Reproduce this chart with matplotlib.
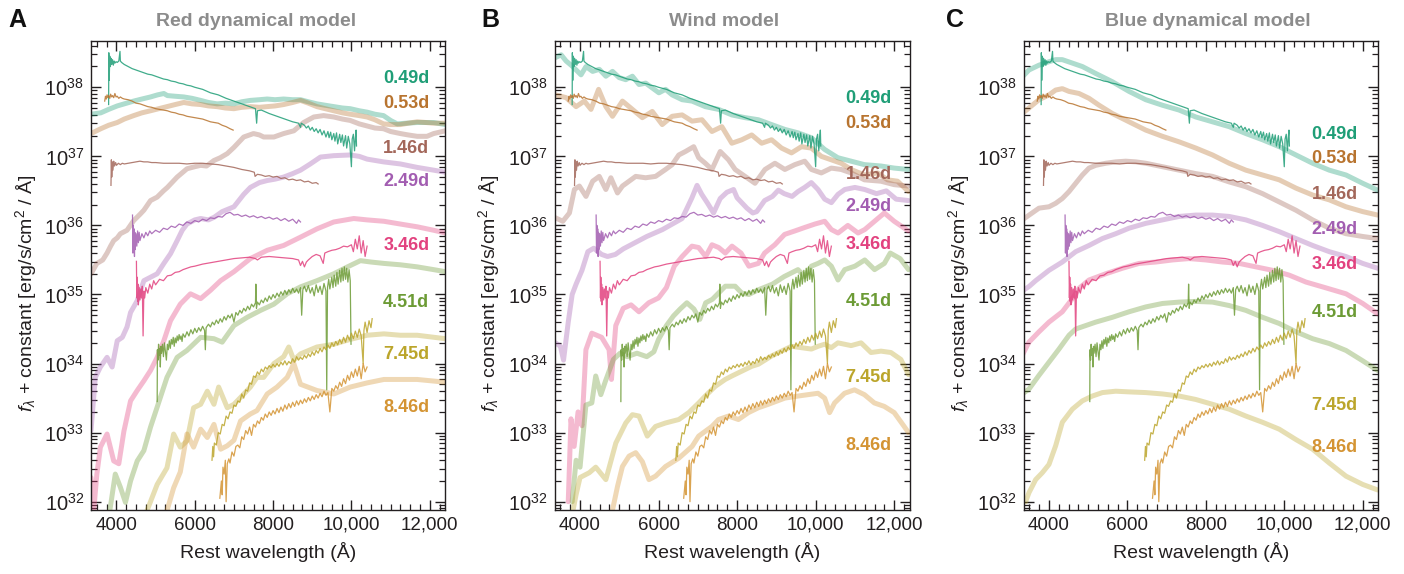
import numpy as np
import matplotlib
matplotlib.use("Agg")
import matplotlib.pyplot as plt
from matplotlib.ticker import (FixedLocator, MultipleLocator, LogLocator, FuncFormatter,
                               NullFormatter, LogFormatterSciNotation)

plt.rcParams['font.family'] = ['Liberation Sans', 'DejaVu Sans']
plt.rcParams['mathtext.fontset'] = 'custom'
plt.rcParams['mathtext.rm'] = 'Liberation Sans'
plt.rcParams['mathtext.it'] = 'Liberation Sans:italic'
plt.rcParams['mathtext.bf'] = 'Liberation Sans:bold'

# ---------------- data ----------------
epochs = ['0.49d', '0.53d', '1.46d', '2.49d', '3.46d', '4.51d', '7.45d', '8.46d']
colors = ['#1f9e77', '#b8742f', '#a3675a', '#a25db1', '#e2427f', '#6c9b35', '#bba52b', '#d49433']
panel_titles = ['Red dynamical model', 'Wind model', 'Blue dynamical model']
panel_letters = ['A', 'B', 'C']
xtick_values = [4000, 6000, 8000, 10000, 12000]
ytick_exponents = [32, 33, 34, 35, 36, 37, 38]

# observed spectra: (rest wavelength [A], log10 f_lambda + constant)
obs_049 = [(3800, 37.75), (3805, 38.50), (3815, 38.10), (3830, 38.45), (3845, 38.30), (3860, 38.42),
           (3880, 38.33), (3900, 38.40), (3920, 38.32), (3940, 38.38), (3960, 38.35), (3990, 38.37),
           (4020, 38.36), (4060, 38.38), (4090, 38.52), (4100, 38.38), (4130, 38.36), (4200, 38.33),
           (4300, 38.30), (4400, 38.27), (4500, 38.25), (4600, 38.23), (4700, 38.21), (4800, 38.19),
           (4900, 38.18), (5000, 38.16), (5100, 38.14), (5200, 38.12), (5300, 38.11), (5400, 38.09),
           (5500, 38.08), (5600, 38.06), (5700, 38.05), (5800, 38.03), (5900, 38.02), (6000, 38.00),
           (6200, 37.97), (6400, 37.92), (6600, 37.89), (6800, 37.84), (7000, 37.80), (7200, 37.76),
           (7400, 37.72), (7550, 37.69), (7580, 37.48), (7600, 37.66), (7700, 37.67), (7900, 37.62),
           (8100, 37.58), (8300, 37.54), (8500, 37.50), (8650, 37.48), (8700, 37.42), (8720, 37.48),
           (8800, 37.45), (8850, 37.41), (8900, 37.44), (8950, 37.38), (9000, 37.42), (9050, 37.36),
           (9100, 37.40), (9150, 37.34), (9200, 37.39), (9250, 37.31), (9300, 37.37), (9350, 37.28),
           (9400, 37.36), (9430, 37.27), (9470, 37.35), (9500, 37.24), (9550, 37.33), (9580, 37.22),
           (9620, 37.34), (9650, 37.18), (9700, 37.32), (9730, 37.20), (9770, 37.31), (9800, 37.15),
           (9850, 37.30), (9880, 37.12), (9920, 37.29), (9960, 37.18), (10000, 36.85), (10020, 37.25),
           (10050, 37.32), (10080, 37.08), (10100, 37.26), (10120, 37.38), (10130, 37.15)]
obs_053 = [(3700, 37.80), (3720, 37.87), (3740, 37.83), (3760, 37.89), (3780, 37.85), (3800, 37.88),
           (3830, 37.84), (3850, 37.90), (3880, 37.86), (3900, 37.88), (3930, 37.85), (3960, 37.91),
           (3990, 37.86), (4020, 37.87), (4060, 37.84), (4100, 37.86), (4150, 37.84), (4200, 37.83),
           (4300, 37.82), (4400, 37.80), (4500, 37.77), (4600, 37.76), (4700, 37.74), (4800, 37.72),
           (4900, 37.71), (5000, 37.69), (5100, 37.68), (5200, 37.67), (5300, 37.66), (5400, 37.64),
           (5500, 37.63), (5600, 37.61), (5700, 37.60), (5800, 37.58), (5900, 37.57), (6000, 37.56),
           (6100, 37.55), (6200, 37.54), (6300, 37.52), (6400, 37.50), (6500, 37.49), (6600, 37.48),
           (6700, 37.45), (6800, 37.43), (6900, 37.40), (6980, 37.38)]
obs_146 = [(3860, 36.58), (3870, 36.95), (3880, 36.70), (3895, 36.92), (3910, 36.80), (3930, 36.93),
           (3950, 36.86), (3980, 36.91), (4000, 36.87), (4050, 36.90), (4100, 36.88), (4150, 36.90),
           (4200, 36.89), (4300, 36.90), (4400, 36.91), (4500, 36.92), (4600, 36.93), (4700, 36.92),
           (4800, 36.92), (4900, 36.91), (5000, 36.91), (5200, 36.90), (5400, 36.90), (5600, 36.90),
           (5800, 36.89), (6000, 36.90), (6200, 36.90), (6400, 36.89), (6600, 36.88), (6800, 36.86),
           (7000, 36.84), (7200, 36.81), (7400, 36.79), (7520, 36.77), (7540, 36.71), (7600, 36.74),
           (7700, 36.73), (7800, 36.71), (7900, 36.72), (8000, 36.70), (8100, 36.71), (8200, 36.68),
           (8300, 36.69), (8400, 36.66), (8500, 36.67), (8600, 36.65), (8700, 36.66), (8800, 36.63),
           (8900, 36.64), (9000, 36.61), (9100, 36.62), (9150, 36.60)]
obs_249 = [(4410, 36.15), (4420, 35.60), (4430, 36.00), (4440, 35.70), (4450, 35.95), (4460, 35.55),
           (4470, 35.90), (4480, 35.65), (4500, 35.88), (4520, 35.70), (4540, 35.92), (4560, 35.75),
           (4580, 35.90), (4600, 35.78), (4650, 35.88), (4700, 35.82), (4750, 35.90), (4800, 35.85),
           (4850, 35.92), (4900, 35.88), (5000, 35.93), (5100, 35.90), (5200, 35.96), (5300, 35.94),
           (5400, 35.99), (5500, 35.97), (5600, 36.02), (5700, 36.00), (5800, 36.05), (5900, 36.03),
           (6000, 36.07), (6100, 36.05), (6200, 36.09), (6300, 36.07), (6400, 36.11), (6500, 36.10),
           (6600, 36.13), (6700, 36.12), (6800, 36.17), (6900, 36.19), (7000, 36.15), (7100, 36.16),
           (7200, 36.13), (7300, 36.15), (7400, 36.12), (7500, 36.14), (7600, 36.11), (7700, 36.13),
           (7800, 36.10), (7900, 36.12), (8000, 36.09), (8100, 36.11), (8200, 36.07), (8300, 36.10),
           (8400, 36.06), (8500, 36.09), (8600, 36.03), (8650, 36.08), (8700, 36.05)]
obs_346 = [(4510, 35.48), (4520, 34.95), (4530, 35.25), (4540, 34.90), (4550, 35.15), (4560, 34.85),
           (4580, 35.10), (4600, 34.92), (4620, 35.08), (4640, 34.95), (4660, 35.12), (4680, 34.40),
           (4700, 35.05), (4720, 34.95), (4750, 35.10), (4800, 35.02), (4850, 35.15), (4900, 35.08),
           (4950, 35.20), (5000, 35.14), (5100, 35.22), (5200, 35.20), (5300, 35.27), (5400, 35.28),
           (5500, 35.32), (5600, 35.33), (5700, 35.36), (5800, 35.38), (5900, 35.40), (6000, 35.41),
           (6200, 35.44), (6400, 35.46), (6600, 35.48), (6800, 35.50), (7000, 35.52), (7200, 35.53),
           (7400, 35.54), (7550, 35.52), (7600, 35.50), (7700, 35.54), (7900, 35.55), (8100, 35.54),
           (8300, 35.53), (8500, 35.52), (8650, 35.50), (8700, 35.42), (8750, 35.48), (8800, 35.40),
           (8850, 35.47), (8900, 35.50), (9000, 35.55), (9100, 35.58), (9200, 35.56), (9280, 35.45),
           (9320, 35.60), (9400, 35.62), (9500, 35.64), (9600, 35.65), (9700, 35.67), (9800, 35.70),
           (9900, 35.69), (10000, 35.72), (10050, 35.62), (10100, 35.80), (10150, 35.66), (10200, 35.85),
           (10250, 35.60), (10300, 35.78), (10350, 35.55), (10400, 35.70)]
obs_451 = [(5040, 33.45), (5045, 34.20), (5060, 34.05), (5075, 34.28), (5090, 34.12), (5105, 34.22),
           (5120, 33.95), (5135, 34.25), (5150, 34.15), (5175, 34.28), (5200, 34.10), (5225, 34.30),
           (5250, 34.18), (5275, 34.05), (5300, 34.28), (5325, 34.20), (5350, 34.33), (5375, 34.22),
           (5400, 34.35), (5425, 34.28), (5450, 34.38), (5475, 34.25), (5500, 34.37), (5525, 34.30),
           (5550, 34.40), (5575, 34.33), (5600, 34.42), (5625, 34.35), (5650, 34.40), (5675, 34.32),
           (5700, 34.43), (5750, 34.38), (5800, 34.46), (5850, 34.40), (5900, 34.49), (5950, 34.43),
           (6000, 34.51), (6050, 34.45), (6100, 34.52), (6150, 34.47), (6200, 34.54), (6250, 34.48),
           (6270, 34.20), (6290, 34.52), (6350, 34.57), (6400, 34.53), (6450, 34.60), (6500, 34.56),
           (6550, 34.63), (6600, 34.58), (6650, 34.65), (6700, 34.60), (6750, 34.68), (6800, 34.63),
           (6850, 34.70), (6900, 34.66), (6950, 34.72), (7000, 34.60), (7050, 34.74), (7100, 34.70),
           (7150, 34.77), (7200, 34.73), (7250, 34.80), (7300, 34.76), (7350, 34.83), (7400, 34.78),
           (7450, 34.86), (7500, 34.82), (7550, 34.88), (7560, 35.15), (7575, 34.80), (7600, 34.89),
           (7650, 34.85), (7700, 34.92), (7750, 34.88), (7800, 34.95), (7850, 34.90), (7900, 34.98),
           (7950, 34.93), (8000, 35.00), (8050, 34.95), (8100, 35.02), (8150, 34.97), (8200, 35.04),
           (8250, 34.99), (8300, 35.06), (8350, 35.00), (8400, 35.07), (8450, 35.02), (8500, 35.09),
           (8550, 35.03), (8600, 35.08), (8650, 35.02), (8700, 35.10), (8730, 34.70), (8760, 35.07),
           (8800, 35.12), (8850, 35.04), (8900, 35.13), (8950, 35.02), (9000, 35.10), (9050, 34.98),
           (9100, 35.14), (9150, 35.03), (9200, 35.12), (9250, 35.00), (9300, 35.16), (9350, 35.05),
           (9370, 33.62), (9390, 35.10), (9420, 35.22), (9450, 35.08), (9500, 35.25), (9530, 35.10),
           (9560, 35.28), (9600, 35.12), (9630, 35.32), (9660, 35.15), (9700, 35.35), (9730, 35.18),
           (9760, 35.38), (9790, 35.20), (9820, 35.40), (9850, 35.22), (9880, 35.38), (9910, 35.18),
           (9940, 35.36), (9970, 35.20), (9990, 34.28)]
obs_745 = [(6440, 32.60), (6460, 32.80), (6480, 32.65), (6500, 32.85), (6550, 32.82), (6600, 33.00),
           (6650, 32.98), (6700, 33.12), (6750, 33.10), (6800, 33.24), (6850, 33.20), (6900, 33.30),
           (6950, 33.28), (7000, 33.40), (7050, 33.38), (7100, 33.46), (7150, 33.44), (7200, 33.56),
           (7250, 33.50), (7300, 33.62), (7350, 33.60), (7400, 33.72), (7450, 33.70), (7500, 33.82),
           (7550, 33.80), (7600, 33.88), (7650, 33.84), (7700, 33.92), (7750, 33.88), (7800, 33.95),
           (7850, 33.92), (7900, 33.97), (7950, 33.94), (8000, 33.99), (8050, 33.95), (8100, 34.00),
           (8150, 33.96), (8200, 34.02), (8250, 33.98), (8300, 34.04), (8350, 33.98), (8400, 34.03),
           (8450, 34.00), (8500, 34.07), (8550, 34.02), (8600, 34.10), (8650, 34.05), (8700, 34.09),
           (8750, 34.06), (8800, 34.12), (8850, 34.08), (8900, 34.14), (8950, 34.10), (9000, 34.17),
           (9050, 34.12), (9100, 34.19), (9150, 34.15), (9200, 34.22), (9250, 34.17), (9300, 34.24),
           (9350, 34.20), (9400, 34.27), (9450, 34.22), (9500, 34.30), (9550, 34.25), (9600, 34.32),
           (9650, 34.27), (9700, 34.35), (9750, 34.29), (9800, 34.38), (9850, 34.31), (9900, 34.41),
           (9950, 34.34), (10000, 34.44), (10050, 34.36), (10100, 34.47), (10150, 34.38), (10200, 34.50),
           (10250, 34.40), (10300, 34.00), (10320, 34.48), (10350, 34.60), (10400, 34.45), (10450, 34.62),
           (10500, 34.52), (10530, 34.65)]
obs_846 = [(6640, 32.05), (6680, 32.30), (6700, 32.10), (6720, 32.50), (6750, 32.40), (6780, 32.60),
           (6800, 32.00), (6830, 32.55), (6870, 32.62), (6900, 32.56), (6950, 32.72), (7000, 32.66),
           (7050, 32.80), (7100, 32.82), (7150, 32.78), (7200, 32.94), (7250, 32.90), (7300, 33.03),
           (7350, 32.98), (7400, 33.08), (7450, 32.96), (7500, 33.12), (7550, 33.08), (7600, 33.17),
           (7650, 33.13), (7700, 33.22), (7750, 33.18), (7800, 33.27), (7850, 33.22), (7900, 33.30),
           (7950, 33.25), (8000, 33.32), (8050, 33.27), (8100, 33.35), (8150, 33.29), (8200, 33.37),
           (8250, 33.31), (8300, 33.40), (8350, 33.34), (8400, 33.42), (8450, 33.36), (8500, 33.44),
           (8550, 33.38), (8600, 33.46), (8650, 33.40), (8700, 33.47), (8750, 33.42), (8800, 33.49),
           (8850, 33.44), (8900, 33.51), (8950, 33.46), (9000, 33.53), (9050, 33.48), (9100, 33.55),
           (9150, 33.50), (9200, 33.57), (9250, 33.52), (9300, 33.60), (9350, 33.54), (9400, 33.58),
           (9450, 33.30), (9500, 33.64), (9550, 33.60), (9600, 33.68), (9650, 33.63), (9700, 33.73),
           (9750, 33.67), (9800, 33.78), (9850, 33.71), (9900, 33.83), (9950, 33.76), (10000, 33.88),
           (10050, 33.80), (10100, 33.92), (10150, 33.82), (10200, 33.96), (10250, 33.78), (10300, 34.00),
           (10350, 33.88), (10400, 33.95)]

# Red dynamical model
red_049 = [(3350, 37.61), (3600, 37.63), (3800, 37.68), (4020, 37.73), (4200, 37.76), (4440, 37.80),
           (4650, 37.83), (4870, 37.86), (5050, 37.89), (5210, 37.91), (5300, 37.88), (5500, 37.87),
           (5720, 37.86), (5930, 37.84), (6150, 37.81), (6350, 37.78), (6570, 37.76), (6780, 37.77),
           (7000, 37.76), (7200, 37.79), (7420, 37.81), (7650, 37.82), (7850, 37.83), (8050, 37.82),
           (8270, 37.83), (8500, 37.82), (8700, 37.82), (8900, 37.79), (9120, 37.76), (9330, 37.74),
           (9550, 37.72), (9770, 37.70), (9970, 37.69), (10200, 37.66), (10400, 37.64), (10600, 37.61),
           (10820, 37.59), (11000, 37.52), (11170, 37.47), (11400, 37.48), (11680, 37.49), (11900, 37.49),
           (12100, 37.49), (12400, 37.46)]
red_053 = [(3350, 37.33), (3600, 37.40), (3800, 37.45), (4020, 37.49), (4200, 37.54), (4440, 37.59),
           (4650, 37.63), (4870, 37.66), (5080, 37.69), (5290, 37.72), (5500, 37.75), (5720, 37.78),
           (5930, 37.76), (6150, 37.75), (6350, 37.73), (6570, 37.72), (6780, 37.70), (7000, 37.69),
           (7200, 37.71), (7420, 37.72), (7650, 37.71), (7850, 37.72), (8050, 37.73), (8270, 37.75),
           (8500, 37.78), (8700, 37.81), (8900, 37.77), (9120, 37.72), (9330, 37.69), (9550, 37.66),
           (9770, 37.63), (9970, 37.61), (10200, 37.59), (10400, 37.57), (10600, 37.53), (10820, 37.47),
           (11000, 37.46), (11250, 37.46), (11450, 37.48), (11680, 37.50), (11900, 37.49), (12100, 37.48),
           (12400, 37.48)]
red_146 = [(3350, 35.30), (3500, 35.45), (3650, 35.50), (3760, 35.60), (3850, 35.70), (3930, 35.78),
           (4020, 35.82), (4100, 35.88), (4270, 35.93), (4440, 36.07), (4600, 36.16), (4700, 36.22),
           (4870, 36.36), (5040, 36.41), (5200, 36.50), (5300, 36.55), (5550, 36.70), (5800, 36.82),
           (6000, 36.85), (6150, 36.87), (6300, 36.86), (6490, 36.94), (6650, 36.98), (6830, 37.04),
           (7000, 37.13), (7250, 37.28), (7500, 37.33), (7650, 37.31), (7760, 37.28), (8020, 37.28),
           (8270, 37.33), (8530, 37.37), (8780, 37.49), (9040, 37.57), (9290, 37.59), (9550, 37.57),
           (9770, 37.54), (9970, 37.52), (10200, 37.47), (10400, 37.44), (10600, 37.41), (10820, 37.40),
           (11000, 37.36), (11250, 37.33), (11450, 37.31), (11680, 37.29), (11930, 37.29), (12100, 37.33),
           (12400, 37.37)]
red_249 = [(3350, 33.03), (3460, 33.80), (3590, 33.95), (3760, 34.09), (3890, 33.95), (4020, 34.33),
           (4150, 34.38), (4270, 34.53), (4360, 34.74), (4530, 34.91), (4700, 35.20), (4870, 35.25),
           (5040, 35.30), (5210, 35.45), (5380, 35.59), (5550, 35.78), (5680, 35.93), (5800, 36.02),
           (6000, 36.08), (6150, 36.10), (6350, 36.08), (6500, 36.12), (6700, 36.20), (7000, 36.27),
           (7250, 36.45), (7420, 36.55), (7650, 36.62), (7850, 36.65), (8050, 36.67), (8270, 36.70),
           (8500, 36.75), (8700, 36.80), (8950, 36.89), (9210, 36.99), (9550, 37.01), (9970, 37.02),
           (10200, 37.00), (10400, 36.96), (10820, 36.92), (11250, 36.89), (11680, 36.84), (12100, 36.80),
           (12400, 36.77)]
red_346 = [(3350, 32.35), (3420, 31.87), (3500, 32.40), (3590, 32.79), (3760, 32.98), (3930, 32.59),
           (4060, 32.55), (4190, 33.02), (4360, 33.46), (4530, 33.61), (4700, 33.75), (4870, 33.90),
           (5040, 34.09), (5210, 34.33), (5380, 34.62), (5630, 34.86), (5890, 35.01), (6150, 34.94),
           (6400, 35.06), (6660, 35.20), (7000, 35.33), (7420, 35.52), (7850, 35.64), (8270, 35.71),
           (8700, 35.83), (9120, 35.95), (9550, 36.05), (10060, 36.10), (10400, 36.08), (10830, 36.06),
           (11250, 36.02), (11680, 35.98), (12100, 35.93), (12400, 35.89)]
red_451 = [(3830, 31.87), (3970, 32.40), (4100, 32.21), (4230, 31.99), (4360, 32.30), (4530, 32.59),
           (4700, 32.74), (4870, 33.08), (5040, 33.37), (5290, 33.80), (5550, 34.09), (5800, 34.19),
           (6150, 34.38), (6490, 34.36), (6700, 34.31), (7000, 34.55), (7340, 34.67), (7680, 34.77),
           (8020, 34.86), (8360, 35.01), (8700, 35.11), (9120, 35.20), (9550, 35.30), (9900, 35.40),
           (10230, 35.49), (10500, 35.47), (10830, 35.45), (11250, 35.43), (11680, 35.40), (12100, 35.36),
           (12400, 35.33)]
red_745 = [(4780, 31.87), (5040, 32.25), (5290, 32.49), (5460, 32.98), (5630, 32.79), (5800, 32.88),
           (5970, 33.36), (6150, 33.41), (6320, 33.60), (6490, 33.41), (6610, 33.66), (6830, 33.36),
           (7000, 33.41), (7170, 33.51), (7420, 33.66), (7590, 33.80), (7760, 33.80), (8020, 34.00),
           (8270, 34.10), (8400, 34.24), (8530, 34.05), (8700, 34.14), (9120, 34.24), (9550, 34.28),
           (9970, 34.35), (10400, 34.41), (10830, 34.43), (11250, 34.41), (11680, 34.41), (12400, 34.36)]
red_846 = [(5290, 31.87), (5460, 32.20), (5630, 32.43), (5800, 32.98), (5970, 32.79), (6150, 33.05),
           (6320, 32.93), (6490, 33.12), (6660, 32.76), (6830, 32.81), (7000, 32.89), (7170, 33.17),
           (7420, 33.27), (7590, 33.32), (7850, 33.56), (8100, 33.66), (8360, 33.80), (8530, 34.00),
           (8700, 33.70), (9120, 33.61), (9550, 33.56), (9970, 33.66), (10400, 33.72), (10830, 33.77),
           (11250, 33.77), (11680, 33.77), (12400, 33.73)]

# Wind model
wind_049 = [(3375, 38.43), (3519, 38.47), (3646, 38.38), (3814, 38.30), (4025, 38.18), (4152, 38.30),
            (4321, 38.23), (4490, 38.26), (4658, 38.16), (4827, 38.23), (4996, 38.14), (5165, 38.11),
            (5334, 38.16), (5502, 38.04), (5671, 38.06), (5840, 37.99), (6009, 37.92), (6178, 37.97),
            (6346, 37.89), (6600, 37.82), (6853, 37.80), (7190, 37.72), (7528, 37.68), (7866, 37.60),
            (8203, 37.56), (8541, 37.53), (8878, 37.46), (9216, 37.39), (9554, 37.34), (9891, 37.27),
            (10229, 37.10), (10566, 36.98), (10904, 36.93), (11242, 36.88), (11664, 36.86), (12001, 36.83),
            (12364, 36.81)]
wind_053 = [(3375, 37.89), (3646, 37.85), (3899, 37.72), (4110, 37.80), (4279, 37.68), (4473, 37.97),
            (4658, 37.72), (4827, 37.58), (5080, 37.80), (5334, 37.68), (5587, 37.56), (5840, 37.65),
            (6093, 37.46), (6346, 37.58), (6600, 37.60), (6853, 37.51), (7106, 37.53), (7359, 37.36),
            (7612, 37.43), (7866, 37.19), (8119, 37.24), (8372, 37.31), (8625, 37.19), (8878, 37.24),
            (9131, 37.12), (9385, 37.05), (9638, 37.14), (9891, 37.12), (10144, 37.00), (10398, 36.95),
            (10651, 36.90), (10904, 36.81), (11242, 36.73), (11579, 36.76), (11832, 36.66), (12086, 36.64),
            (12364, 36.49)]
wind_146 = [(3375, 36.11), (3561, 36.06), (3730, 36.18), (3857, 36.52), (3983, 36.57), (4152, 36.42),
            (4321, 36.64), (4490, 36.71), (4658, 36.52), (4785, 36.69), (4954, 36.47), (5080, 36.57),
            (5249, 36.64), (5418, 36.71), (5671, 36.69), (5924, 36.71), (6178, 36.81), (6346, 36.88),
            (6515, 37.02), (6684, 37.07), (6895, 37.14), (7022, 36.98), (7190, 36.90), (7359, 36.81),
            (7570, 37.07), (7781, 36.95), (7950, 36.81), (8203, 36.71), (8456, 36.61), (8710, 36.81),
            (8963, 36.90), (9216, 36.81), (9469, 36.88), (9722, 36.93), (9891, 36.81), (10144, 36.76),
            (10398, 36.83), (10651, 36.81), (10904, 36.76), (11242, 36.66), (11664, 36.64), (12001, 36.59),
            (12364, 36.57)]
wind_249 = [(3375, 34.30), (3500, 34.25), (3580, 34.05), (3700, 34.60), (3800, 35.00), (3900, 35.15),
            (4050, 35.35), (4200, 35.62), (4350, 35.67), (4550, 35.58), (4700, 35.55), (4900, 35.58),
            (5100, 35.66), (5300, 35.72), (5500, 35.78), (5700, 35.84), (5900, 35.89), (6100, 35.94),
            (6350, 36.02), (6600, 36.10), (6850, 36.40), (6980, 36.58), (7100, 36.45), (7250, 36.32),
            (7400, 36.18), (7570, 36.39), (7740, 36.48), (7910, 36.52), (8000, 36.40), (8250, 36.25),
            (8400, 36.18), (8500, 36.20), (8700, 36.36), (8900, 36.42), (9050, 36.51), (9200, 36.46),
            (9400, 36.42), (9550, 36.49), (9720, 36.55), (9890, 36.62), (10060, 36.52), (10230, 36.38),
            (10400, 36.33), (10570, 36.45), (10740, 36.52), (11000, 36.55), (11250, 36.52), (11550, 36.46),
            (11800, 36.50), (12050, 36.38), (12364, 36.36)]
wind_346 = [(3700, 32.00), (3770, 33.20), (3850, 32.80), (3950, 33.30), (4050, 33.10), (4150, 34.20),
            (4300, 34.44), (4550, 34.38), (4740, 34.20), (4800, 33.77), (4910, 34.55), (5100, 34.80),
            (5300, 34.85), (5500, 34.75), (5750, 34.88), (6000, 34.95), (6200, 35.10), (6400, 35.41),
            (6600, 35.55), (6850, 35.70), (7020, 35.68), (7200, 35.55), (7360, 35.72), (7530, 35.68),
            (7700, 35.60), (7870, 35.70), (8100, 35.60), (8300, 35.41), (8540, 35.45), (8700, 35.60),
            (8960, 35.72), (9210, 35.87), (9470, 35.92), (9720, 35.97), (9980, 36.02), (10230, 36.06),
            (10400, 35.94), (10570, 35.89), (10820, 36.00), (11080, 35.89), (11250, 35.94), (11500, 36.06),
            (11750, 36.18), (12000, 36.06), (12364, 35.92)]
wind_451 = [(3800, 32.00), (3900, 32.60), (4000, 32.50), (4150, 33.40), (4300, 33.43), (4400, 33.82),
            (4530, 33.55), (4650, 33.75), (4850, 34.06), (5020, 34.15), (5200, 34.10), (5450, 34.15),
            (5700, 34.10), (5880, 34.17), (6000, 34.35), (6200, 34.55), (6380, 34.69), (6550, 34.79),
            (6720, 34.88), (6900, 34.79), (7050, 34.64), (7200, 34.88), (7370, 34.93), (7700, 35.12),
            (7950, 35.12), (8120, 35.02), (8300, 35.00), (8550, 35.07), (8900, 35.15), (9200, 35.26),
            (9550, 35.36), (9720, 35.26), (9890, 35.41), (10060, 35.45), (10230, 35.50), (10400, 35.41),
            (10570, 35.21), (10740, 35.36), (11000, 35.41), (11250, 35.50), (11500, 35.36), (11750, 35.45),
            (11900, 35.60), (12150, 35.52), (12364, 35.36)]
wind_745 = [(3820, 31.87), (3899, 32.10), (4000, 32.35), (4236, 32.42), (4400, 32.50), (4658, 32.32),
            (4912, 32.85), (5165, 33.14), (5334, 33.26), (5502, 33.24), (5713, 32.95), (5924, 33.09),
            (6178, 33.14), (6515, 33.19), (6768, 33.29), (7022, 33.43), (7190, 33.53), (7444, 33.67),
            (7697, 33.77), (7866, 33.82), (8119, 33.89), (8372, 33.96), (8541, 33.99), (8878, 34.11),
            (9131, 34.18), (9385, 34.25), (9638, 34.23), (9891, 34.21), (10060, 34.25), (10229, 34.28),
            (10398, 34.23), (10566, 34.30), (10904, 34.26), (11157, 34.30), (11410, 34.16), (11664, 34.18),
            (11917, 34.16), (12170, 34.06), (12364, 33.84)]
wind_846 = [(4827, 31.88), (4954, 32.22), (5080, 32.51), (5249, 32.66), (5418, 32.71), (5587, 32.58),
            (5755, 32.32), (5924, 32.37), (6178, 32.51), (6515, 32.63), (6853, 32.80), (7022, 32.95),
            (7190, 33.02), (7359, 33.09), (7528, 33.19), (7781, 33.24), (8034, 33.19), (8288, 33.29),
            (8541, 33.36), (8794, 33.41), (9216, 33.50), (9554, 33.53), (9807, 33.55), (10060, 33.57),
            (10229, 33.50), (10355, 33.29), (10482, 33.43), (10735, 33.57), (10988, 33.62), (11242, 33.55),
            (11495, 33.43), (11748, 33.38), (12001, 33.29), (12254, 33.09), (12364, 33.00)]

# Blue dynamical model
blue_049 = [(3319, 38.15), (3489, 38.25), (3745, 38.32), (4000, 38.37), (4170, 38.40), (4340, 38.40),
            (4596, 38.35), (4851, 38.30), (5191, 38.20), (5617, 38.08), (6042, 37.94), (6468, 37.82),
            (6893, 37.74), (7319, 37.67), (7744, 37.57), (8170, 37.50), (8595, 37.43), (9021, 37.33),
            (9446, 37.24), (9872, 37.14), (10297, 37.02), (10723, 36.90), (11148, 36.80), (11574, 36.73),
            (12000, 36.61), (12382, 36.51)]
blue_053 = [(3319, 37.62), (3489, 37.70), (3745, 37.82), (4000, 37.89), (4170, 37.96), (4340, 37.98),
            (4511, 37.94), (4766, 37.91), (5021, 37.84), (5277, 37.74), (5617, 37.62), (6042, 37.50),
            (6468, 37.38), (6893, 37.29), (7319, 37.21), (7744, 37.12), (8170, 37.02), (8595, 36.90),
            (9021, 36.80), (9446, 36.73), (9872, 36.66), (10297, 36.54), (10723, 36.44), (11148, 36.37),
            (11574, 36.27), (12000, 36.20), (12382, 36.15)]
blue_146 = [(3319, 36.08), (3745, 36.25), (4000, 36.27), (4170, 36.32), (4340, 36.39), (4511, 36.49),
            (4681, 36.61), (4851, 36.73), (5021, 36.83), (5191, 36.87), (5447, 36.90), (5702, 36.92),
            (5957, 36.93), (6213, 36.92), (6468, 36.90), (6893, 36.85), (7319, 36.80), (7744, 36.75),
            (8170, 36.71), (8595, 36.63), (9021, 36.56), (9446, 36.46), (9872, 36.34), (10297, 36.22),
            (10723, 36.08), (11148, 35.96), (11574, 35.88), (12000, 35.84), (12382, 35.81)]
blue_249 = [(3319, 35.05), (3500, 35.12), (3660, 35.20), (4000, 35.35), (4340, 35.47), (4681, 35.62),
            (5021, 35.71), (5362, 35.81), (5702, 35.88), (6042, 35.96), (6468, 36.03), (6893, 36.08),
            (7319, 36.13), (7744, 36.15), (8170, 36.15), (8595, 36.13), (9021, 36.08), (9446, 36.00),
            (9872, 35.91), (10297, 35.81), (10723, 35.71), (11148, 35.62), (11574, 35.55), (12000, 35.45),
            (12382, 35.38)]
blue_346 = [(3319, 34.12), (3489, 34.31), (3745, 34.46), (4000, 34.60), (4340, 34.75), (4596, 34.94),
            (4766, 35.09), (5021, 35.21), (5447, 35.30), (5872, 35.38), (6298, 35.45), (6723, 35.47),
            (7149, 35.50), (7574, 35.52), (8000, 35.50), (8425, 35.47), (8851, 35.45), (9276, 35.40),
            (9702, 35.35), (10127, 35.28), (10553, 35.18), (10978, 35.11), (11574, 35.01), (12000, 34.87),
            (12382, 34.72)]
blue_451 = [(3319, 33.56), (3489, 33.63), (3745, 33.83), (4000, 34.02), (4255, 34.21), (4511, 34.41),
            (4681, 34.50), (4936, 34.55), (5191, 34.60), (5617, 34.67), (6042, 34.75), (6468, 34.82),
            (6893, 34.87), (7319, 34.89), (7744, 34.90), (8170, 34.89), (8595, 34.84), (9021, 34.77),
            (9446, 34.67), (9872, 34.58), (10297, 34.46), (10723, 34.36), (11148, 34.29), (11574, 34.19),
            (12000, 34.04), (12382, 33.90)]
blue_745 = [(3404, 32.00), (3489, 32.13), (3660, 32.32), (3830, 32.42), (4000, 32.54), (4170, 32.81),
            (4340, 33.15), (4596, 33.34), (4851, 33.46), (5106, 33.53), (5362, 33.58), (5702, 33.60),
            (6042, 33.59), (6468, 33.58), (6893, 33.56), (7319, 33.53), (7744, 33.48), (8170, 33.41),
            (8595, 33.34), (9021, 33.24), (9446, 33.15), (9872, 33.05), (10297, 32.90), (10723, 32.76),
            (11148, 32.56), (11574, 32.37), (12000, 32.25), (12382, 32.17)]

observed = [obs_049, obs_053, obs_146, obs_249, obs_346, obs_451, obs_745, obs_846]
models = [
    [red_049, red_053, red_146, red_249, red_346, red_451, red_745, red_846],
    [wind_049, wind_053, wind_146, wind_249, wind_346, wind_451, wind_745, wind_846],
    [blue_049, blue_053, blue_146, blue_249, blue_346, blue_451, blue_745, None],
]

# label anchor (log10 flux) per panel for each epoch
label_logy = [
    [38.12, 37.77, 37.11, 36.64, 35.71, 34.89, 34.13, 33.37],
    [37.84, 37.48, 36.74, 36.28, 35.72, 34.90, 33.80, 32.81],
    [37.32, 36.97, 36.45, 35.94, 35.43, 34.74, 33.40, 32.79],
]
label_x = [11990, 11935, 11875]

# ---------------- figure ----------------
W, H = 1404, 574
fig = plt.figure(figsize=(W / 100, H / 100), dpi=100)
axes_px = [(91, 354), (554.5, 355), (1023.5, 354.5)]
title_x = [0.466, 0.477, 0.520]
top_px, bot_px = 41, 510
letter_px = [8, 481, 946]

def xfmt(v, pos):
    v = int(round(v))
    return f"{v:,}" if v >= 10000 else f"{v}"

for p in range(3):
    lx, w = axes_px[p]
    ax = fig.add_axes([lx / W, (H - bot_px) / H, w / W, (bot_px - top_px) / H])
    ax.set_yscale('log')
    for i in range(8):
        m = models[p][i]
        if m is None:
            continue
        wl = [a for a, b in m]
        fl = [10 ** b for a, b in m]
        ax.plot(wl, fl, color=colors[i], lw=3.6, alpha=0.36, solid_joinstyle='round',
                solid_capstyle='round', zorder=2)
    for i in range(8):
        o = observed[i]
        wl = [a for a, b in o]
        fl = [10 ** b for a, b in o]
        ax.plot(wl, fl, color=colors[i], lw=0.9, alpha=0.85, zorder=3)
    for i in range(8):
        ax.text(label_x[p], 10 ** label_logy[p][i], epochs[i], color=colors[i], fontsize=13,
                fontweight='bold', ha='right', va='center', zorder=5)

    ax.set_xlim(3350, 12390)
    ax.set_ylim(10 ** 31.88, 10 ** 38.67)
    ax.xaxis.set_major_locator(FixedLocator(xtick_values))
    ax.xaxis.set_major_formatter(FuncFormatter(xfmt))
    ax.xaxis.set_minor_locator(MultipleLocator(250))
    ax.yaxis.set_major_locator(FixedLocator([10.0 ** e for e in ytick_exponents]))
    ax.yaxis.set_major_formatter(LogFormatterSciNotation())
    ax.yaxis.set_minor_locator(LogLocator(base=10, subs=np.arange(2, 10), numticks=100))
    ax.yaxis.set_minor_formatter(NullFormatter())
    ax.xaxis.get_offset_text().set_visible(False)
    ax.yaxis.get_offset_text().set_visible(False)
    ax.tick_params(which='both', direction='in', top=True, right=True, colors='#231f20')
    ax.tick_params(which='major', length=7, width=1.0, pad=5)
    ax.tick_params(axis='x', which='major', labelsize=13.5)
    ax.tick_params(axis='y', which='major', labelsize=14.5)
    ax.tick_params(which='minor', length=4, width=0.9)
    for s in ax.spines.values():
        s.set_color('#231f20')
        s.set_linewidth(1.0)

    ax.set_xlabel('Rest wavelength (Å)', fontsize=14, color='#231f20', labelpad=6)
    ax.text(-0.183, 0.463, r'$f_\lambda$ + constant [erg/s/cm$^2$ / Å]', transform=ax.transAxes,
            rotation=90, ha='center', va='center', fontsize=14, color='#231f20')
    ax.set_title(panel_titles[p], fontsize=14, fontweight='bold', color='#8c8c8c', pad=11,
                 x=title_x[p])
    fig.text(letter_px[p] / W, (H - 27) / H, panel_letters[p], fontsize=18, fontweight='bold',
             family=['Liberation Sans Narrow', 'Liberation Sans'], ha='left', va='baseline',
             color='#111111')

fig.savefig('out.png', dpi=100)
